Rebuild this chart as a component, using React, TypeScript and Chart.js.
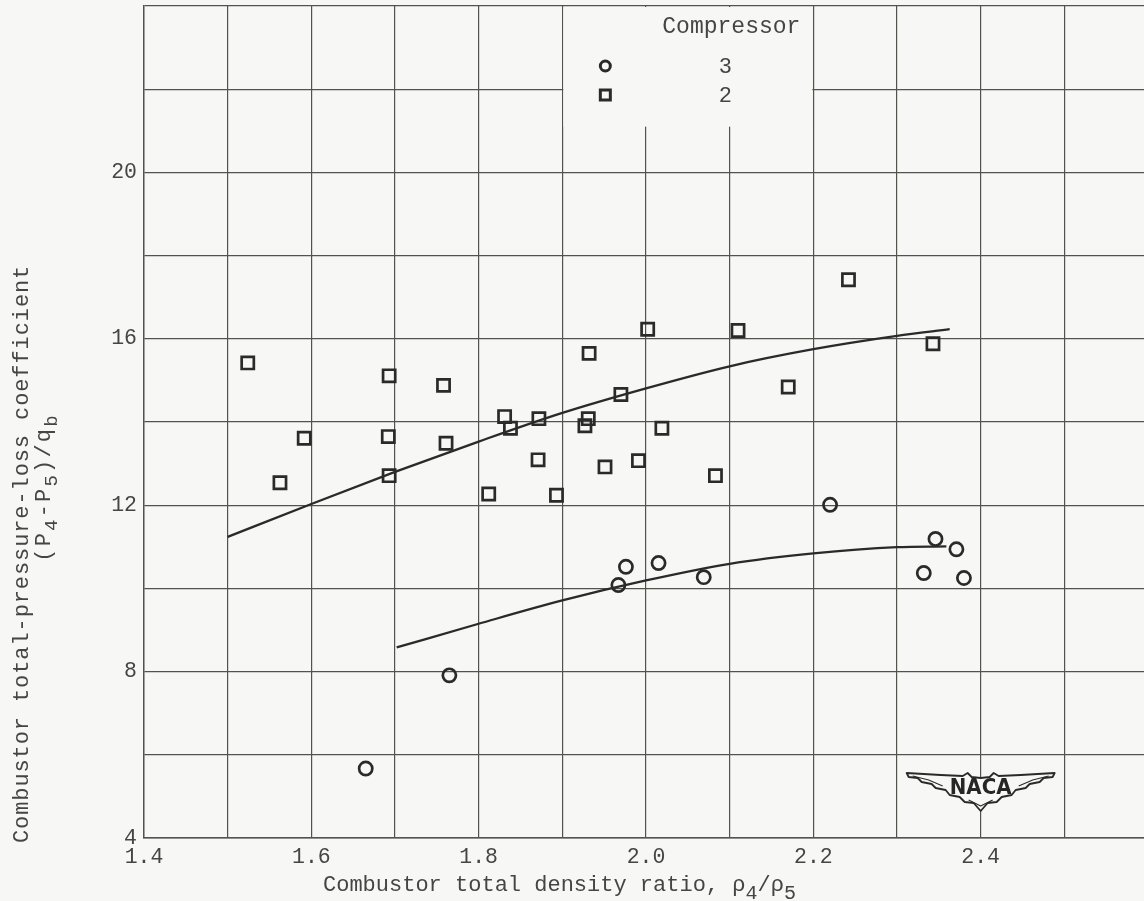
import React, { useEffect, useRef } from "react";
import { Chart, registerables } from "chart.js";

Chart.register(...registerables);

const MONO = "'Liberation Mono', 'DejaVu Sans Mono', monospace";
const INK = "#2a2a28";
const GRID = "#53534c";
const PAPER = "#f7f7f5";
const TEXT = "#454542";

// Compressor 3 test points (circles)
const comp3X = [1.665, 1.765, 1.967, 1.976, 2.015, 2.069, 2.220, 2.332, 2.346, 2.371, 2.380];
const comp3Y = [5.67, 7.91, 10.08, 10.52, 10.61, 10.27, 12.01, 10.37, 11.19, 10.94, 10.25];

// Compressor 2 test points (squares)
const comp2X = [
  1.524, 1.5625, 1.5915, 1.693, 1.692, 1.693, 1.758, 1.761, 1.812, 1.831, 1.838, 1.872, 1.871, 1.893,
  1.927, 1.931, 1.932, 1.951, 1.970, 1.991, 2.002, 2.019, 2.083, 2.110, 2.170, 2.242, 2.343,
];
const comp2Y = [
  15.42, 12.54, 13.61, 15.11, 13.65, 12.71, 14.88, 13.49, 12.27, 14.13, 13.85, 14.08, 13.09, 12.24,
  13.91, 14.08, 15.65, 12.92, 14.66, 13.07, 16.23, 13.85, 12.71, 16.2, 14.84, 17.42, 15.88,
];

// Faired curves through each compressor's data
const fit2X = [1.5, 1.6, 1.7, 1.8, 1.9, 2.0, 2.1, 2.2, 2.3, 2.363];
const fit2Y = [11.24, 12.03, 12.8, 13.53, 14.22, 14.81, 15.34, 15.75, 16.07, 16.23];
const fit3X = [1.702, 1.8, 1.9, 2.0, 2.1, 2.2, 2.3, 2.359];
const fit3Y = [8.58, 9.15, 9.71, 10.19, 10.59, 10.84, 10.99, 11.01];

const xLabelled = ["1.4", "1.6", "1.8", "2.0", "2.2", "2.4"];
const yLabelled = [4, 8, 12, 16, 20];

const legendTitle = "Compressor";
const legendEntries = ["3", "2"];

type Part = [string, boolean];

function drawRich(ctx: CanvasRenderingContext2D, parts: Part[], size: number, subSize: number, drop: number) {
  let x = 0;
  for (const [t, sub] of parts) {
    ctx.font = `${sub ? subSize : size}px ${MONO}`;
    ctx.fillText(t, x, sub ? drop : 0);
    x += ctx.measureText(t).width;
  }
}

function drawLogo(ctx: CanvasRenderingContext2D, cx: number, cy: number) {
  const right: [number, number][] = [
    [74, -14], [72, -10], [63, -9], [59, -5], [49, -3], [45, 1], [35, 3], [31, 8], [21, 10], [16, 15], [7, 16], [0, 24],
  ];
  const top: [number, number][] = [
    [-74, -14], [-40, -12], [-18, -11], [-13, -14], [-9, -10], [0, -9], [9, -10], [13, -14], [18, -11], [40, -12], [74, -14],
  ];
  ctx.save();
  ctx.beginPath();
  top.forEach(([x, y], i) => (i === 0 ? ctx.moveTo(cx + x, cy + y) : ctx.lineTo(cx + x, cy + y)));
  right.slice(1).forEach(([x, y]) => ctx.lineTo(cx + x, cy + y));
  right.slice(0, -1).reverse().forEach(([x, y]) => ctx.lineTo(cx - x, cy + y));
  ctx.closePath();
  ctx.fillStyle = PAPER;
  ctx.fill();
  ctx.strokeStyle = INK;
  ctx.lineWidth = 1.8;
  ctx.lineJoin = "round";
  ctx.stroke();
  // inner feather contour
  ctx.beginPath();
  ctx.lineWidth = 1.1;
  ctx.moveTo(cx - 68, cy - 11);
  ctx.lineTo(cx - 52, cy - 7);
  ctx.lineTo(cx - 38, cy - 1);
  ctx.moveTo(cx + 68, cy - 11);
  ctx.lineTo(cx + 52, cy - 7);
  ctx.lineTo(cx + 38, cy - 1);
  ctx.moveTo(cx - 12, cy + 13);
  ctx.lineTo(cx, cy + 19);
  ctx.lineTo(cx + 12, cy + 13);
  ctx.stroke();
  ctx.fillStyle = "#262624";
  ctx.font = "bold 22px 'Liberation Sans Narrow', 'DejaVu Sans Condensed', 'Liberation Sans', sans-serif";
  ctx.textAlign = "center";
  ctx.textBaseline = "middle";
  ctx.fillText("NACA", cx, cy + 1);
  ctx.restore();
}

const decorPlugin = {
  id: "decor",
  beforeDraw(chart: any) {
    const ctx = chart.ctx as CanvasRenderingContext2D;
    ctx.save();
    ctx.fillStyle = PAPER;
    ctx.fillRect(0, 0, chart.width, chart.height);
    ctx.restore();
  },
  afterDraw(chart: any) {
    const ctx = chart.ctx as CanvasRenderingContext2D;
    const xs = chart.scales.x;
    const ys = chart.scales.y;
    const area = chart.chartArea;

    // legend panel
    const bx0 = xs.getPixelForValue(1.9) + 1;
    const bx1 = xs.getPixelForValue(2.2) - 1;
    const by0 = area.top + 1;
    const by1 = ys.getPixelForValue(21.1);
    ctx.save();
    ctx.fillStyle = PAPER;
    ctx.fillRect(bx0, by0, bx1 - bx0, by1 - by0);
    ctx.fillStyle = TEXT;
    ctx.font = `23px ${MONO}`;
    ctx.textAlign = "center";
    ctx.textBaseline = "alphabetic";
    ctx.fillText(legendTitle, bx0 + 168, area.top + 27);
    ctx.font = `22px ${MONO}`;
    ctx.textBaseline = "middle";
    const mx = bx0 + 42;
    const tx = bx0 + 162;
    const r1 = area.top + 60;
    const r2 = area.top + 89;
    ctx.fillText(legendEntries[0], tx, r1 + 1);
    ctx.fillText(legendEntries[1], tx, r2 + 1);
    ctx.strokeStyle = INK;
    ctx.lineWidth = 3;
    ctx.beginPath();
    ctx.arc(mx, r1, 5, 0, Math.PI * 2);
    ctx.stroke();
    ctx.beginPath();
    ctx.rect(mx - 5, r2 - 5, 10, 10);
    ctx.stroke();
    ctx.restore();

    drawLogo(ctx, xs.getPixelForValue(2.4), ys.getPixelForValue(4) - 51);

    // axis titles
    ctx.save();
    ctx.fillStyle = TEXT;
    ctx.textAlign = "left";
    ctx.textBaseline = "alphabetic";
    ctx.save();
    ctx.translate(area.left + 179, area.bottom + 53);
    drawRich(ctx, [["Combustor total density ratio, \u03c1", false], ["4", true], ["/\u03c1", false], ["5", true]], 22, 20, 8);
    ctx.restore();

    ctx.save();
    (ctx as any).letterSpacing = "0.9px";
    ctx.translate(28, area.bottom + 5);
    ctx.rotate(-Math.PI / 2);
    drawRich(ctx, [["Combustor total-pressure-loss coefficient", false]], 22, 22, 0);
    ctx.restore();

    ctx.save();
    (ctx as any).letterSpacing = "2.2px";
    ctx.translate(50, ys.getPixelForValue(10.64));
    ctx.rotate(-Math.PI / 2);
    drawRich(ctx, [["(P", false], ["4", true], ["-P", false], ["5", true], [")/q", false], ["b", true]], 22, 19, 7);
    ctx.restore();
    ctx.restore();
  },
};

export default function App() {
  const ref = useRef<HTMLCanvasElement | null>(null);

  useEffect(() => {
    if (!ref.current) return;
    const pts = (xs: number[], ys: number[]) => xs.map((x, i) => ({ x, y: ys[i] }));
    const tickFont = { family: MONO, size: 21.5 };
    const chart = new Chart(ref.current, {
      type: "scatter",
      data: {
        datasets: [
          {
            label: "fit2",
            data: pts(fit2X, fit2Y),
            showLine: true,
            pointRadius: 0,
            borderColor: INK,
            borderWidth: 2.3,
            cubicInterpolationMode: "monotone",
          },
          {
            label: "fit3",
            data: pts(fit3X, fit3Y),
            showLine: true,
            pointRadius: 0,
            borderColor: INK,
            borderWidth: 2.3,
            cubicInterpolationMode: "monotone",
          },
          {
            label: legendEntries[0],
            data: pts(comp3X, comp3Y),
            pointStyle: "circle",
            pointRadius: 6.6,
            borderWidth: 2.7,
            borderColor: INK,
            backgroundColor: "rgba(0,0,0,0)",
          },
          {
            label: legendEntries[1],
            data: pts(comp2X, comp2Y),
            pointStyle: "rect",
            pointRadius: 8.6,
            borderWidth: 2.7,
            borderColor: INK,
            backgroundColor: "rgba(0,0,0,0)",
          },
        ],
      } as any,
      options: {
        animation: false,
        responsive: false,
        maintainAspectRatio: false,
        events: [],
        layout: { autoPadding: false, padding: { top: 6, right: 2, left: 0, bottom: 0 } },
        plugins: { legend: { display: false }, tooltip: { enabled: false } },
        scales: {
          x: {
            type: "linear",
            min: 1.4,
            max: 2.6,
            afterFit: (s: any) => {
              s.height = 63;
              s.paddingLeft = 0;
              s.paddingRight = 0;
            },
            ticks: {
              stepSize: 0.1,
              autoSkip: false,
              maxRotation: 0,
              padding: 6,
              color: TEXT,
              font: tickFont,
              callback: (v: any) => {
                const lbl = (Math.round(Number(v) * 10) / 10).toFixed(1);
                return xLabelled.includes(lbl) ? lbl : "";
              },
            },
            grid: { color: GRID, lineWidth: 1.2, drawTicks: false },
            border: { color: GRID, width: 1.4 },
          },
          y: {
            type: "linear",
            min: 4,
            max: 24,
            afterFit: (s: any) => {
              s.width = 144;
              s.paddingTop = 0;
              s.paddingBottom = 0;
            },
            ticks: {
              stepSize: 2,
              autoSkip: false,
              padding: 7,
              color: TEXT,
              font: tickFont,
              callback: (v: any) => (yLabelled.includes(Number(v)) ? String(v) : ""),
            },
            grid: { color: GRID, lineWidth: 1.2, drawTicks: false },
            border: { color: GRID, width: 1.4 },
          },
        },
      } as any,
      plugins: [decorPlugin],
    });
    return () => chart.destroy();
  }, []);

  return (
    <div
      style={{
        position: "fixed",
        left: 0,
        top: 0,
        width: 1144,
        height: 901,
        overflow: "hidden",
        background: PAPER,
      }}
    >
      <canvas ref={ref} width={1150} height={901} style={{ display: "block", width: 1150, height: 901 }} />
    </div>
  );
}
